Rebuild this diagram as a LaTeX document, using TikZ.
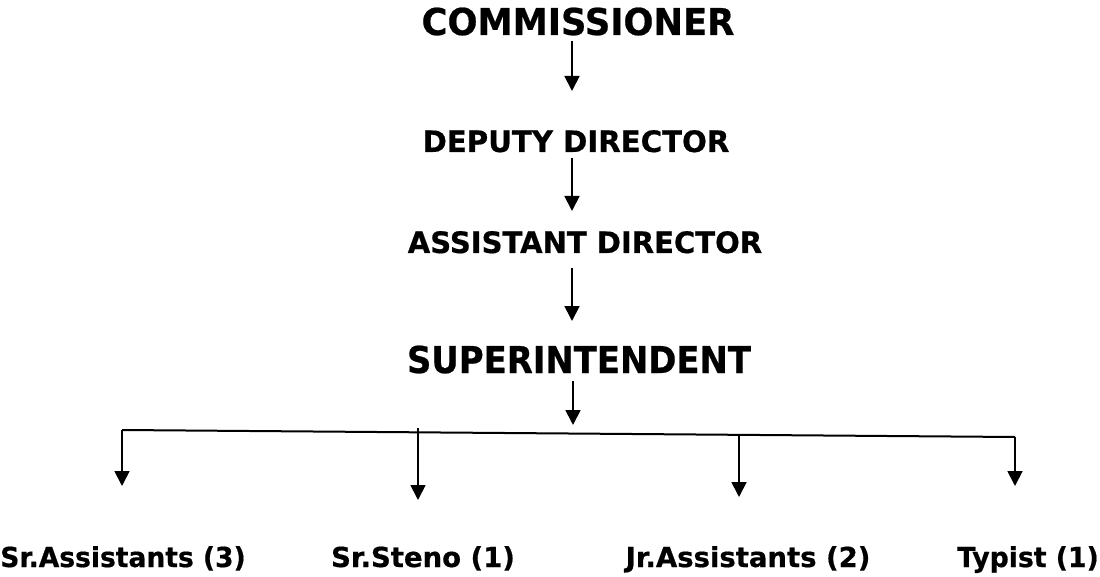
\documentclass[tikz,border=0pt]{standalone}
\usepackage{fontspec}
\setmainfont{DejaVu Sans}[BoldFeatures={FakeBold=0.6}]
\usetikzlibrary{arrows.meta}
\tikzset{
  big/.style={font=\bfseries\fontsize{37}{40}\selectfont, inner sep=0pt, anchor=base},
  mid/.style={font=\bfseries\fontsize{29.5}{34}\selectfont, inner sep=0pt, anchor=base},
  low/.style={font=\bfseries\fontsize{27.5}{32}\selectfont, inner sep=0pt, anchor=base},
  arr/.style={-{Triangle[length=15pt,width=15pt]}, line width=1.8pt},
  bar/.style={line width=2pt}
}
\begin{document}
\begin{tikzpicture}[x=1pt,y=-1pt]
\useasboundingbox (0,0) rectangle (1100,577);
\node[big] (com) at (578,35) {\scalebox{0.955}[1]{COMMISSIONER}};
\node[mid] (dep) at (576,152) {\scalebox{0.99}[1]{DEPUTY DIRECTOR}};
\node[mid] (asd) at (585,253) {\scalebox{0.985}[1]{ASSISTANT DIRECTOR}};
\node[big] (sup) at (579,373) {\scalebox{0.915}[1]{SUPERINTENDENT}};
\node[low] (sra) at (123,567) {\scalebox{0.965}[1]{Sr.Assistants (3)}};
\node[low] (srs) at (423,567) {Sr.Steno (1)};
\node[low] (jra) at (748,567) {Jr.Assistants (2)};
\node[low] (typ) at (1028,567) {\scalebox{0.97}[1]{Typist (1)}};
\coordinate (a1) at (572,41); \coordinate (b1) at (572,91);
\coordinate (a2) at (572,158); \coordinate (b2) at (572,211);
\coordinate (a3) at (572,268); \coordinate (b3) at (572,321);
\coordinate (a4) at (573,381); \coordinate (b4) at (573,425);
\draw[arr] (a1) -- (b1);
\draw[arr] (a2) -- (b2);
\draw[arr] (a3) -- (b3);
\draw[arr] (a4) -- (b4);
\coordinate (L) at (122,430); \coordinate (R) at (1015,437);
\draw[bar] (L) -- (R);
\coordinate (t1) at (122,486);
\coordinate (s2) at (418,428); \coordinate (t2) at (418,500);
\coordinate (s3) at (739,434); \coordinate (t3) at (739,497);
\coordinate (t4) at (1015,486);
\draw[arr] (L) -- (t1);
\draw[arr] (s2) -- (t2);
\draw[arr] (s3) -- (t3);
\draw[arr] (R) -- (t4);
\end{tikzpicture}
\end{document}
